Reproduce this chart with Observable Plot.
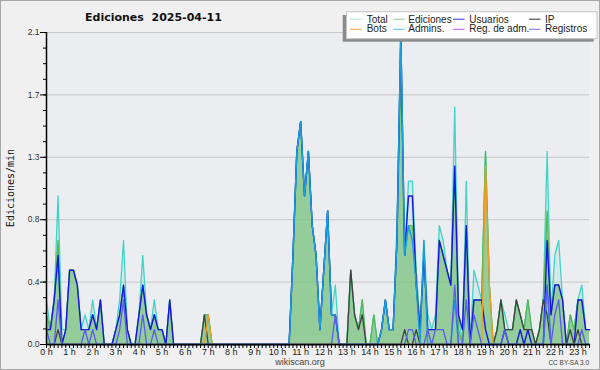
<!DOCTYPE html>
<html>
<head>
<meta charset="utf-8">
<script src="https://cdn.jsdelivr.net/npm/d3@7"></script>
<script src="https://cdn.jsdelivr.net/npm/@observablehq/plot@0.6"></script>
<style>
  html, body { margin: 0; padding: 0; background: #f0f0f0; }
  #chart { width: 600px; height: 370px; }
  svg { display: block; }
</style>
</head>
<body>
<div id="chart"></div>
<script>
// 10-minute bins, 00:00 .. 23:30 (edits per minute)
const total = [
  0.3,0.1,0.3,1.0,0.1,0.1,  0.5,0.5,0.4,0.1,0.2,0.1,  0.3,0.1,0.3,0,0,0,
  0.1,0.3,0.7,0.1,0,0,  0.2,0.6,0.2,0.1,0.3,0.1,  0.1,0,0.3,0,0,0,
  0,0,0,0,0,0.2,  0.2,0,0,0,0,0,  0,0,0,0,0,0,
  0,0,0,0,0,0,  0,0,0,0,0.6,1.3,  1.5,1.0,1.3,0.8,0.6,0.1,
  0.5,0.9,0.2,0.4,0,0,  0,0.5,0.2,0.1,0.3,0,  0,0.2,0,0.1,0.3,0.1,
  0.1,0.8,2.1,0.6,1.1,1.1,  0.5,0.1,0.7,0.2,0.1,0.2,  0.8,0.7,0.5,0.4,1.6,0.2,
  0,1.1,0,0.5,0.4,0.3,  1.3,0.4,0,0.1,0.3,0.2,  0.1,0.1,0.3,0.2,0.1,0.3,
  0.1,0,0.1,0.3,1.3,0.2,  0.6,0.7,0.3,0,0.2,0.1,  0.3,0.4,0.1,0.1
];
const edits = [
  0.2,0.1,0.3,0.7,0,0.1,  0.5,0.5,0.4,0.1,0.1,0.1,  0.2,0.1,0.3,0,0,0,
  0.1,0.2,0.4,0.1,0,0,  0.2,0.4,0.2,0.1,0.2,0.1,  0.1,0,0.3,0,0,0,
  0,0,0,0,0,0.2,  0.2,0,0,0,0,0,  0,0,0,0,0,0,
  0,0,0,0,0,0,  0,0,0,0,0.6,1.3,  1.5,1.0,1.3,0.8,0.6,0.1,
  0.5,0.9,0.2,0.2,0,0,  0,0.5,0.2,0.1,0.3,0,  0,0.2,0,0.1,0.3,0.1,
  0.1,0.7,1.8,0.6,0.8,0.8,  0.5,0.1,0.6,0.1,0.1,0.1,  0.7,0.6,0.5,0.4,1.2,0.1,
  0,0.8,0,0.3,0.3,0.3,  1.3,0.4,0,0.1,0.3,0.1,  0.1,0.1,0.3,0.2,0.1,0.3,
  0.1,0,0.1,0.3,0.9,0.2,  0.4,0.4,0.3,0,0.2,0.1,  0.3,0.3,0.1,0.1
];
const users = [
  0.1,0.1,0.3,0.6,0,0.1,  0.5,0.5,0.4,0.1,0.1,0.1,  0.2,0.1,0.3,0,0,0,
  0.1,0.2,0.4,0.1,0,0,  0.2,0.4,0.2,0.1,0.2,0.1,  0.1,0,0.3,0,0,0,
  0,0,0,0,0,0,  0,0,0,0,0,0,  0,0,0,0,0,0,
  0,0,0,0,0,0,  0,0,0,0,0.6,1.3,  1.5,1.0,1.3,0.8,0.6,0.1,
  0.5,0.9,0.2,0.2,0,0,  0,0,0,0,0,0,  0,0,0,0.1,0.3,0.1,
  0.1,0.7,2.1,0.6,1.0,1.0,  0.4,0.1,0.6,0.1,0.1,0.1,  0.7,0.6,0.5,0.4,1.2,0.2,
  0.1,0.8,0,0.3,0.3,0.3,  0.1,0,0,0,0,0.1,  0,0,0,0.1,0,0.1,
  0,0,0,0,0.7,0.2,  0.4,0.4,0.3,0,0,0,  0.3,0.3,0.1,0.1
];
const ip = [
  0,0,0,0.1,0,0,  0,0,0,0,0,0,  0,0,0,0,0,0,
  0,0,0,0,0,0,  0,0,0,0,0,0,  0,0,0,0,0,0,
  0,0,0,0,0,0.2,  0,0,0,0,0,0,  0,0,0,0,0,0,
  0,0,0,0,0,0,  0,0,0,0,0,0,  0,0,0,0,0,0,
  0,0,0,0,0,0,  0,0.5,0.2,0.1,0.2,0,  0,0,0,0,0,0,
  0,0,0,0.1,0,0,  0.1,0,0,0,0,0,  0,0,0,0,0,0,
  0,0,0,0,0,0,  0,0,0,0.1,0.3,0.1,  0.1,0.1,0.3,0.2,0.1,0.1,
  0.1,0,0.1,0.3,0.2,0,  0,0,0,0,0.1,0,  0.1,0,0,0
];
const bots = [
  0,0,0,0,0,0,  0,0,0,0,0,0,  0,0,0,0,0,0,
  0,0,0,0,0,0,  0,0,0,0,0,0,  0,0,0,0,0,0,
  0,0,0,0,0,0,  0.2,0,0,0,0,0,  0,0,0,0,0,0,
  0,0,0,0,0,0,  0,0,0,0,0,0,  0,0,0,0,0,0,
  0,0,0,0,0,0,  0,0,0,0,0,0,  0,0,0,0,0,0,
  0,0,0,0,0,0,  0,0,0,0,0,0,  0,0,0,0,0,0,
  0,0,0,0,0,0,  1.2,0.4,0,0,0,0,  0,0,0,0,0,0,
  0,0,0,0,0,0,  0,0,0,0,0,0,  0,0,0,0
];
const admins = [
  0,0,0,0,0,0,  0,0,0,0,0,0,  0,0,0,0,0,0,
  0,0,0,0,0,0,  0,0,0,0,0,0,  0,0,0,0,0,0,
  0,0,0,0,0,0,  0,0,0,0,0,0,  0,0,0,0,0,0,
  0,0,0,0,0,0,  0,0,0,0,0.6,1.3,  1.5,1.0,1.3,0.8,0.6,0.1,
  0.5,0.9,0.2,0.2,0,0,  0,0,0,0,0,0,  0,0,0,0.1,0.3,0.1,
  0.1,0.7,2.1,0.6,0.8,0.7,  0.4,0,0.7,0,0,0,  0,0,0,0,0.3,0,
  0,0,0,0,0,0,  0,0,0,0,0,0,  0,0,0,0,0,0,
  0,0,0,0,0.4,0,  0,0,0,0,0,0,  0,0,0,0
];
const logs = [
  0.1,0,0,0.3,0,0,  0,0,0,0,0.1,0,  0.1,0,0,0,0,0,
  0,0.1,0.3,0,0,0,  0,0.2,0,0,0.1,0,  0,0,0,0,0,0,
  0,0,0,0,0,0,  0,0,0,0,0,0,  0,0,0,0,0,0,
  0,0,0,0,0,0,  0,0,0,0,0,0,  0,0,0,0,0,0,
  0,0,0,0.2,0,0,  0,0,0,0,0,0,  0,0,0,0,0,0,
  0,0,0,0,0.1,0.1,  0,0,0,0.1,0,0.1,  0.1,0.1,0,0,0.4,0,
  0,0.3,0,0.2,0.1,0,  0,0,0,0,0,0.1,  0,0,0,0,0,0,
  0,0,0,0,0.4,0,  0.2,0.3,0,0,0,0,  0,0.1,0,0
];

const legendNames = ["Total","Ediciones","Usuarios","IP","Bots","Admins.","Reg. de adm.","Registros"];
const legendColors = ["#a6e6dc","#8ed08e","#3434e6","#303030","#f0a040","#44c6e0","#c454e6","#7272f0"];
const yMajor = [0, 0.42, 0.84, 1.26, 1.68, 2.1];

const minutes = d3.range(0, 1420, 10);          // bin starts
const hourTicks = d3.range(0, 1381, 60);        // 0 h .. 23 h
const yMinor = d3.range(0, 2.1001, 0.105);
const rows = vals => vals.map((v, i) => ({t: minutes[i], v}));

const chart = Plot.plot({
  width: 600, height: 370,
  marginLeft: 46, marginRight: 11, marginTop: 32, marginBottom: 26,
  style: {background: "transparent", fontFamily: "'Liberation Sans', Arial, sans-serif", fontSize: "9px", color: "#333", overflow: "visible"},
  x: {domain: [0, 1410]},
  y: {domain: [0, 2.1]},
  marks: [
    Plot.frame({fill: "#ecedf0", stroke: "none"}),
    Plot.gridY(yMajor, {stroke: "#c8c8c8", strokeOpacity: 1}),
    Plot.areaY(rows(total), {x: "t", y: "v", fill: "#40d4c4", fillOpacity: 0.13}),
    Plot.areaY(rows(edits), {x: "t", y: "v", fill: "#7cc27c", fillOpacity: 0.72}),
    Plot.lineY(rows(total), {x: "t", y: "v", stroke: "#40d4c6", strokeWidth: 1.3}),
    Plot.lineY(rows(edits), {x: "t", y: "v", stroke: "#56b856", strokeWidth: 1.3}),
    Plot.lineY(rows(users), {x: "t", y: "v", stroke: "#1616e2", strokeWidth: 1.4}),
    Plot.lineY(rows(ip), {x: "t", y: "v", stroke: "#404040", strokeWidth: 1.3}),
    Plot.lineY(rows(bots), {x: "t", y: "v", stroke: "#f09a20", strokeWidth: 1.3}),
    Plot.lineY(rows(admins), {x: "t", y: "v", stroke: "#1a9ee0", strokeWidth: 1.4}),
    Plot.lineY(rows(logs), {x: "t", y: "v", stroke: "#5a5af2", strokeWidth: 1.3}),
    Plot.axisY(yMinor, {tickSize: 3, tickFormat: () => "", label: null, stroke: "#000"}),
    Plot.axisY(yMajor, {tickSize: 6, tickPadding: 1, tickFormat: d3.format(".1f"), label: null, fontSize: 8.5, fill: "#333", stroke: "#000"}),
    Plot.axisX(minutes, {tickSize: 4, tickFormat: () => "", label: null, stroke: "#000"}),
    Plot.axisX(hourTicks, {tickSize: 0, tickPadding: 4, tickFormat: m => `${m / 60} h`, label: null, fontSize: 9, fill: "#222"}),
    Plot.ruleX([0], {stroke: "#000", strokeWidth: 1.5}),
    Plot.ruleY([0], {stroke: "#000", strokeWidth: 1.5})
  ]
});

document.getElementById("chart").appendChild(chart);

// Title, axis title, legend and footer
const svg = d3.select(chart);
svg.insert("rect", ":first-child").attr("x", 0).attr("y", 0).attr("width", 600).attr("height", 370)
  .attr("fill", "#f0f0f0").attr("stroke", "#a8a8a8").attr("stroke-width", 2);

const extra = svg.append("g").attr("text-anchor", "start");

extra.append("text").attr("x", 85).attr("y", 20.7).attr("text-anchor", "start")
  .attr("font-family", "'DejaVu Sans', sans-serif").attr("font-weight", "bold").attr("font-size", 11)
  .attr("fill", "#111").style("white-space", "pre").text("Ediciones  2025-04-11");

extra.append("text").attr("transform", "translate(13.7,188) rotate(-90)").attr("text-anchor", "middle")
  .attr("font-family", "'DejaVu Sans Mono', monospace").attr("font-size", 10).attr("fill", "#111")
  .text("Ediciones/min");

extra.append("text").attr("x", 300).attr("y", 365).attr("text-anchor", "middle")
  .attr("font-family", "'Liberation Sans', Arial, sans-serif").attr("font-size", 9).attr("fill", "#444")
  .text("wikiscan.org");
extra.append("text").attr("x", 589).attr("y", 364.7).attr("text-anchor", "end")
  .attr("font-family", "'Liberation Sans', Arial, sans-serif").attr("font-size", 6.5).attr("fill", "#444")
  .text("CC BY-SA 3.0");

const lg = extra.append("g");
lg.append("rect").attr("x", 342.7).attr("y", 15).attr("width", 251).attr("height", 26.7).attr("fill", "#8c8c8c");
lg.append("rect").attr("x", 346.5).attr("y", 11.7).attr("width", 250.5).attr("height", 27)
  .attr("fill", "#fff").attr("stroke", "#c4c4c4");
const colX = [350, 393.3, 453, 529];
const textX = [366.7, 408.3, 469.3, 545];
legendNames.forEach((name, i) => {
  const c = i % 4, r = Math.floor(i / 4);
  const y = r === 0 ? 19.2 : 29.3;
  lg.append("line").attr("x1", colX[c]).attr("x2", colX[c] + 11.5).attr("y1", y).attr("y2", y)
    .attr("stroke", legendColors[i]).attr("stroke-width", 1);
  lg.append("text").attr("x", textX[c]).attr("y", r === 0 ? 22.6 : 32.4).attr("text-anchor", "start")
    .attr("font-family", "'Liberation Sans', Arial, sans-serif").attr("font-size", 10).attr("fill", "#222")
    .text(name);
});
</script>
</body>
</html>
